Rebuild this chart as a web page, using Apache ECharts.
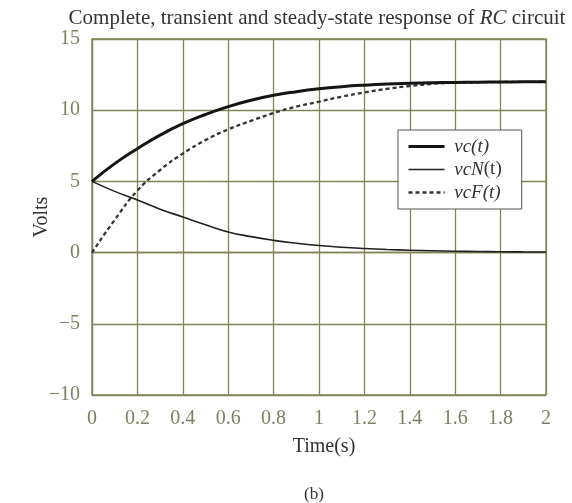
<!DOCTYPE html>
<html>
<head>
<meta charset="utf-8">
<script src="https://cdn.jsdelivr.net/npm/echarts@6/dist/echarts.min.js"></script>
<style>html,body{margin:0;padding:0;background:#fff;}#c{width:572px;height:503px;}</style>
</head>
<body>
<div id="c"></div>
<script>
const times = [0,0.1,0.2,0.3,0.4,0.5,0.6,0.7,0.8,0.9,1.0,1.1,1.2,1.3,1.4,1.5,1.6,1.7,1.8,1.9,2.0];
const vc  = [5.0,6.25,7.3,8.25,9.05,9.7,10.25,10.7,11.05,11.3,11.5,11.65,11.76,11.84,11.89,11.93,11.95,11.97,11.98,11.99,12.0];
const vcN = [5.0,4.3,3.7,3.05,2.5,1.95,1.45,1.12,0.86,0.66,0.5,0.38,0.29,0.22,0.17,0.13,0.1,0.08,0.06,0.05,0.04];
const vcF = [0,2.3,4.35,5.8,6.95,7.9,8.65,9.25,9.8,10.25,10.6,10.95,11.25,11.5,11.7,11.85,11.93,11.96,11.98,11.99,12.0];
const seriesNames = ['vc(t)','vcN(t)','vcF(t)'];
const xTicks = {min:0, max:2, interval:0.2};
const yTicks = {min:-10, max:15, interval:5};

const pair = arr => times.map((t,i)=>[t,arr[i]]);
const serif = '"Liberation Serif","DejaVu Serif",serif';
const gridColor = '#84845a';
const tickColor = '#7f7f62';
const styles = [
  {color:'#151515',width:3,type:'solid'},
  {color:'#202020',width:1.6,type:'solid'},
  {color:'#333333',width:2.3,type:[4,3]}
];

const chart = echarts.init(document.getElementById('c'), null, {renderer:'canvas'});
chart.setOption({
  animation:false,
  backgroundColor:'#fff',
  title:[{
    text:'Complete, transient and steady-state response of {i|RC} circuit',
    left:317, top:8, textAlign:'center', padding:0,
    textStyle:{fontFamily:serif,fontSize:21,fontWeight:'normal',color:'#333',
      rich:{i:{fontFamily:serif,fontSize:21,fontStyle:'italic',color:'#333'}}}
  },{
    text:'(b)', left:314, top:486, textAlign:'center', padding:0,
    textStyle:{fontFamily:serif,fontSize:17,fontWeight:'normal',color:'#333'}
  }],
  grid:{left:92,right:26,top:39,bottom:108,show:true,borderColor:gridColor,borderWidth:1.3,backgroundColor:'transparent'},
  legend:{
    orient:'vertical', left:398, top:130,
    padding:[7,20,7,9],
    itemWidth:36, itemHeight:14, itemGap:4,
    backgroundColor:'#fff', borderColor:'#555', borderWidth:1,
    itemStyle:{opacity:0},
    data:seriesNames.map((n,i)=>({name:n,lineStyle:{color:styles[i].color,width:styles[i].width,type:styles[i].type}})),
    formatter:function(n){
      if(n==='vc(t)') return '{i| vc(t)}';
      if(n==='vcN(t)') return '{i| vcN}{r|(t)}';
      return '{i| vcF(t)}';
    },
    textStyle:{fontFamily:serif,fontSize:19,color:'#333',
      rich:{i:{fontFamily:serif,fontSize:19,fontStyle:'italic',color:'#333',lineHeight:19},
            r:{fontFamily:serif,fontSize:19,color:'#333',lineHeight:19}}}
  },
  xAxis:{
    type:'value', min:xTicks.min, max:xTicks.max, interval:xTicks.interval,
    name:'Time(s)', nameLocation:'middle', nameGap:42, nameMoveOverlap:false,
    nameTextStyle:{fontFamily:serif,fontSize:20,color:'#333',padding:[0,0,0,10]},
    axisLine:{show:true,lineStyle:{color:gridColor,width:1.3}},
    axisTick:{show:false},
    axisLabel:{fontFamily:serif,fontSize:20,color:tickColor,margin:14,
      formatter:v=>String(Math.round(v*10)/10)},
    splitLine:{show:true,lineStyle:{color:gridColor,width:1.3}}
  },
  yAxis:{
    type:'value', min:yTicks.min, max:yTicks.max, interval:yTicks.interval,
    name:'Volts', nameLocation:'middle', nameGap:40, nameRotate:90, nameMoveOverlap:false,
    nameTextStyle:{fontFamily:serif,fontSize:20,color:'#333'},
    axisLine:{show:true,lineStyle:{color:gridColor,width:1.3}},
    axisTick:{show:false},
    axisLabel:{fontFamily:serif,fontSize:20,color:tickColor,margin:12,
      formatter:v=>String(v).replace('-','\u2212')},
    splitLine:{show:true,lineStyle:{color:gridColor,width:1.3}}
  },
  series:seriesNames.map((n,i)=>({
    name:n,type:'line',
    data:pair([vc,vcN,vcF][i]),
    smooth:true,showSymbol:false,symbol:'none',
    lineStyle:{color:styles[i].color,width:styles[i].width,type:styles[i].type},
    itemStyle:{color:styles[i].color},z:i===0?4:3
  }))
});
</script>
</body>
</html>
